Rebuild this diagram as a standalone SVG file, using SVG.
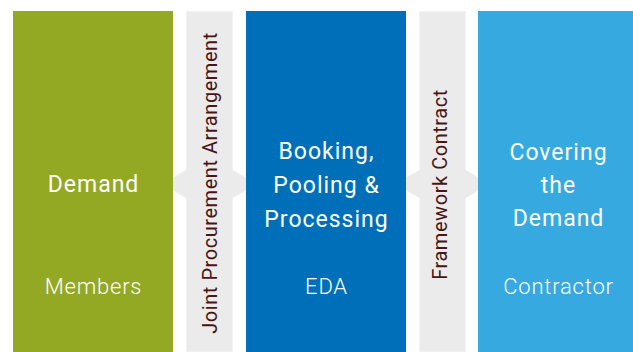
<svg xmlns="http://www.w3.org/2000/svg" width="633" height="352" viewBox="0 0 633 352">
<style>
.t{font-family:Roboto,"Liberation Sans",sans-serif;fill:#ffffff;text-anchor:middle}
.main{font-size:23px;letter-spacing:1px}
.sub{font-size:22px;font-weight:300;letter-spacing:0.8px}
.band{fill:#ebebeb;stroke:#f3f3f3;stroke-width:1}
.vt{font-family:Roboto,"Liberation Sans",sans-serif;font-size:20px;fill:#4a1515;text-anchor:middle;letter-spacing:0.55px}
</style>
<rect width="633" height="352" fill="#ffffff"/>
<g id="connectors">
<g id="joint-procurement">
<polygon class="band" points="186.5,11.5 232.5,11.5 232.5,170 257,184 232.5,198 232.5,352 186.5,352 186.5,198 162,184 186.5,170"/>
<text class="vt" transform="translate(217,183) rotate(-90)">Joint Procurement Arrangement</text>
</g>
<g id="framework-contract">
<polygon class="band" points="419.5,11.5 465.5,11.5 465.5,170 489,184 465.5,198 465.5,352 419.5,352 419.5,198 395,184 419.5,170"/>
<text class="vt" transform="translate(447,184.5) rotate(-90)">Framework Contract</text>
</g>
</g>
<g id="members">
<rect x="13" y="11" width="160" height="341" fill="#93a823"/>
<text class="t main" x="93.5" y="192">Demand</text>
<text class="t sub" x="93.5" y="294">Members</text>
</g>
<g id="eda">
<rect x="246" y="11" width="160" height="341" fill="#006fb9"/>
<text class="t main" x="326.5" y="159">Booking,</text>
<text class="t main" x="326.5" y="193">Pooling &amp;</text>
<text class="t main" x="326.5" y="227">Processing</text>
<text class="t sub" x="326.5" y="294">EDA</text>
</g>
<g id="contractor">
<rect x="478" y="11" width="155" height="341" fill="#36a9e1"/>
<text class="t main" x="558.5" y="160">Covering</text>
<text class="t main" x="558.5" y="193">the</text>
<text class="t main" x="558.5" y="226">Demand</text>
<text class="t sub" x="558.5" y="294">Contractor</text>
</g>
</svg>
